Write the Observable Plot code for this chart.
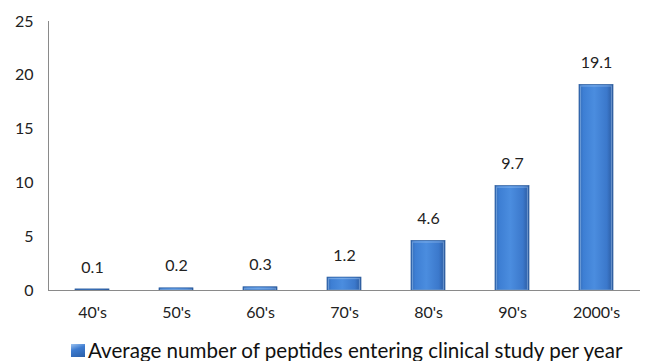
<!DOCTYPE html>
<html><head><meta charset="utf-8">
<script src="https://cdn.jsdelivr.net/npm/d3@7"></script>
<script src="https://cdn.jsdelivr.net/npm/@observablehq/plot@0.6"></script>
<style>
body{margin:0;background:#fff;font-family:Lato,sans-serif;}
#legend{display:flex;align-items:center;justify-content:flex-start;padding-left:71px;margin-top:13px;font-size:20.6px;color:#111;line-height:24px;}
#legend .sw{width:14px;height:13px;background:linear-gradient(160deg,#9cc3f0 0%,#3d7bd0 40%,#2a5ea8 100%);margin-right:3px;}
</style></head>
<body>
<div id="chart"></div>
<div id="legend"><span class="sw"></span><span id="legtext"></span></div>
<script>
const categories = ["40's","50's","60's","70's","80's","90's","2000's"];
const values = [0.1,0.2,0.3,1.2,4.6,9.7,19.1];
const yTicks = [0,5,10,15,20,25];
const seriesName = "Average number of peptides entering clinical study per year";

const data = categories.map((c,i)=>({cat:c, v:values[i]}));

const plot = Plot.plot({
  width:653, height:325,
  marginLeft:48, marginRight:13, marginTop:21, marginBottom:35,
  style:{fontFamily:"Lato,sans-serif", fontSize:"16px", color:"#222"},
  x:{domain:categories, paddingInner:0.6, paddingOuter:0.3, label:null, tickSize:0, tickPadding:16},
  y:{domain:[0,25], ticks:yTicks, label:null, tickSize:0, tickPadding:15},
  marks:[
    Plot.barY(data,{x:"cat", y:"v", fill:"url(#barGrad)", stroke:"#2b5c9c", strokeWidth:0.7}),
    Plot.barY(data,{x:"cat", y:"v", fill:"none", stroke:"#a8cdf5", strokeWidth:1.2, insetTop:1.5, insetLeft:1.5, insetRight:1.5, insetBottom:0, strokeOpacity:0.45}),
    Plot.text(data,{x:"cat", y:"v", text:d=>String(d.v), dy:-22, fontSize:16, fill:"#222"}),
    Plot.ruleY([0],{stroke:"#8a8a8a", strokeWidth:1})
  ]
});
const ns="http://www.w3.org/2000/svg";
const defs=document.createElementNS(ns,"defs");
defs.innerHTML=`<linearGradient id="barGrad" x1="0" x2="1" y1="0" y2="0">
<stop offset="0" stop-color="#2d63ae"/>
<stop offset="0.12" stop-color="#3d7ed3"/>
<stop offset="0.45" stop-color="#4b8ddf"/>
<stop offset="0.82" stop-color="#3b78cb"/>
<stop offset="1" stop-color="#2a589c"/>
</linearGradient>`;
plot.insertBefore(defs, plot.firstChild);
const ys = plot.scale("y");
const yl = document.createElementNS(ns,"line");
yl.setAttribute("x1",48.5); yl.setAttribute("x2",48.5);
yl.setAttribute("y1",ys.apply(25)); yl.setAttribute("y2",ys.apply(0));
yl.setAttribute("stroke","#8a8a8a");
plot.appendChild(yl);
document.getElementById("chart").appendChild(plot);
document.getElementById("legtext").textContent = seriesName;
</script>
</body></html>
